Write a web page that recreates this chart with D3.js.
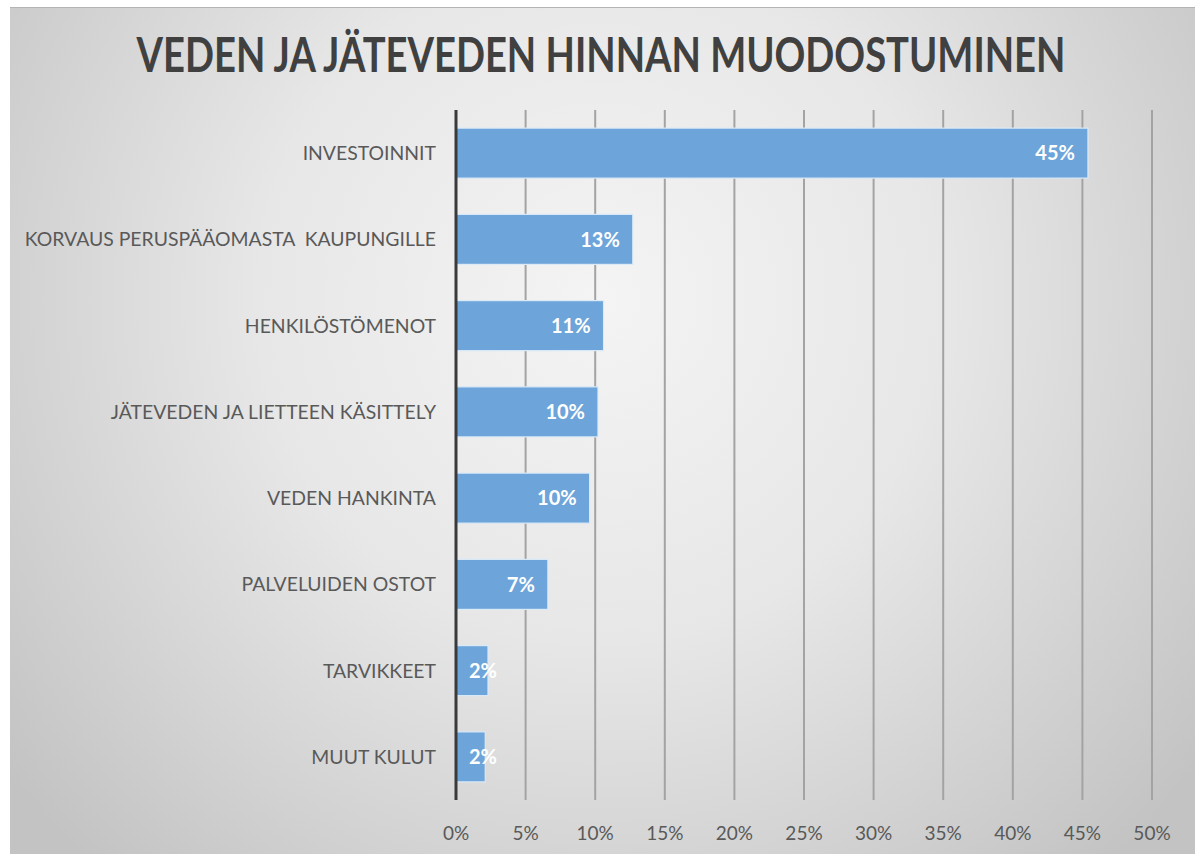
<!DOCTYPE html>
<html>
<head>
<meta charset="utf-8">
<script src="https://cdn.jsdelivr.net/npm/d3@7"></script>
<style>
  html, body { margin: 0; padding: 0; background: #fff; }
  svg { display: block; }
</style>
</head>
<body>
<svg id="chart" width="1195" height="854"></svg>
<script>
const categories = [
  "INVESTOINNIT",
  "KORVAUS PERUSPÄÄOMASTA  KAUPUNGILLE",
  "HENKILÖSTÖMENOT",
  "JÄTEVEDEN JA LIETTEEN KÄSITTELY",
  "VEDEN HANKINTA",
  "PALVELUIDEN OSTOT",
  "TARVIKKEET",
  "MUUT KULUT"
];
const values = [45.4, 12.7, 10.6, 10.2, 9.6, 6.6, 2.3, 2.1];
const valueLabels = ["45%", "13%", "11%", "10%", "10%", "7%", "2%", "2%"];
const tickValues = [0, 5, 10, 15, 20, 25, 30, 35, 40, 45, 50];
const title = "VEDEN JA JÄTEVEDEN HINNAN MUODOSTUMINEN";

const svg = d3.select("#chart");
const W = 1195, H = 854;
const frame = {x: 10, y: 7, w: 1185, h: 847};
const plot = {left: 456, right: 1152, top: 110, bottom: 800};

const defs = svg.append("defs");
const grad = defs.append("radialGradient")
  .attr("id", "bg").attr("gradientUnits", "userSpaceOnUse")
  .attr("cx", 600).attr("cy", 300).attr("r", 760);
grad.append("stop").attr("offset", "0").attr("stop-color", "#f4f4f4");
grad.append("stop").attr("offset", "0.45").attr("stop-color", "#e7e7e7");
grad.append("stop").attr("offset", "1").attr("stop-color", "#c3c3c3");

svg.append("rect").attr("x", frame.x).attr("y", frame.y)
  .attr("width", frame.w).attr("height", frame.h).attr("fill", "url(#bg)");
svg.append("line").attr("x1", frame.x).attr("x2", frame.x + frame.w)
  .attr("y1", frame.y + 0.5).attr("y2", frame.y + 0.5)
  .attr("stroke", "#b4b4b4").attr("stroke-width", 1);

const x = d3.scaleLinear().domain([0, 50]).range([plot.left, plot.right]);
const y = d3.scaleBand().domain(categories).range([plot.top, plot.bottom])
  .paddingInner(0.42).paddingOuter(0.21);

// gridlines
svg.append("g").selectAll("line").data(tickValues.filter(d => d > 0)).join("line")
  .attr("x1", d => x(d)).attr("x2", d => x(d))
  .attr("y1", plot.top).attr("y2", plot.bottom)
  .attr("stroke", "#a3a3a3").attr("stroke-width", 2);

// bars
svg.append("g").selectAll("rect").data(values).join("rect")
  .attr("x", x(0))
  .attr("y", (d, i) => y(categories[i]))
  .attr("width", d => x(d) - x(0))
  .attr("height", y.bandwidth())
  .attr("fill", "#6da4da")
  .attr("stroke", "#dbeaf7").attr("stroke-width", 1.2);

// value labels
svg.append("g").selectAll("text").data(values).join("text")
  .attr("x", d => Math.max(x(d) - 13, x(0) + 41))
  .attr("y", (d, i) => y(categories[i]) + y.bandwidth() / 2)
  .attr("dy", "0.36em")
  .attr("text-anchor", "end")
  .attr("font-family", "Lato, 'Open Sans', sans-serif")
  .attr("font-weight", "bold").attr("font-size", 20)
  .attr("fill", "#ffffff")
  .text((d, i) => valueLabels[i]);

// y axis line
svg.append("line").attr("x1", x(0)).attr("x2", x(0))
  .attr("y1", plot.top).attr("y2", plot.bottom)
  .attr("stroke", "#3a3a3a").attr("stroke-width", 3);

// category labels
svg.append("g").selectAll("text").data(categories).join("text")
  .attr("x", 436)
  .attr("y", d => y(d) + y.bandwidth() / 2)
  .attr("dy", "0.36em")
  .attr("text-anchor", "end")
  .attr("font-family", "Lato, 'Open Sans', sans-serif")
  .attr("font-size", 19.4)
  .attr("fill", "#595959")
  .style("white-space", "pre")
  .attr("xml:space", "preserve")
  .text(d => d);

// tick labels
svg.append("g").selectAll("text").data(tickValues).join("text")
  .attr("x", d => x(d))
  .attr("y", 840)
  .attr("text-anchor", "middle")
  .attr("font-family", "Lato, 'Open Sans', sans-serif")
  .attr("font-size", 19)
  .attr("fill", "#595959")
  .text(d => d + "%");

// title, scaled horizontally to the reference width
const tg = svg.append("g");
const t = tg.append("text")
  .attr("x", 0).attr("y", 0)
  .attr("text-anchor", "middle")
  .attr("font-family", "Lato, 'Open Sans', sans-serif")
  .attr("font-weight", "bold").attr("font-size", 47)
  .attr("fill", "#404040")
  .text(title);
const natural = t.node().getComputedTextLength();
const sx = 929 / natural;
tg.attr("transform", `translate(601,72) scale(${sx},1)`);
</script>
</body>
</html>
